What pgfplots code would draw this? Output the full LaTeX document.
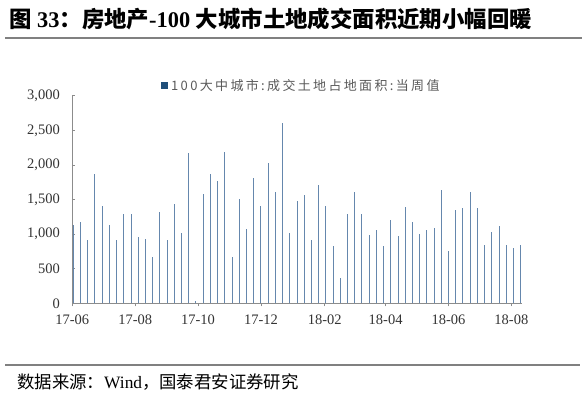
\documentclass[border=0pt]{standalone}
\usepackage{fontspec}
\setmainfont{Liberation Serif}
\newfontfamily\cjk{Noto Sans CJK SC}
\usepackage{pgfplots}
\pgfplotsset{compat=1.18}
\definecolor{barc}{HTML}{6587AD}
\definecolor{axc}{HTML}{8C8C8C}
\definecolor{legc}{HTML}{1F4E79}
\definecolor{txt}{HTML}{333333}
\definecolor{legt}{HTML}{595959}
\definecolor{rulec}{HTML}{808080}
\pgfplotstableread{
x y
1 1130
8 1180
15 910
22 1865
29 1410
36 1135
43 915
50 1285
57 1285
64 960
71 925
78 665
85 1320
92 910
99 1430
106 1010
113 2170
120 40
127 1580
134 1865
141 1765
148 2190
155 665
162 1505
169 1070
176 1805
183 1400
190 2030
197 1610
204 2610
211 1010
218 1485
225 1565
232 920
239 1710
246 1400
253 835
260 360
267 1290
274 1610
281 1285
288 990
295 1065
302 830
309 1210
316 975
323 1385
330 1175
337 1000
344 1060
351 1095
358 1635
365 755
372 1345
379 1375
386 1605
393 1380
400 840
407 1025
414 1120
421 840
428 795
435 840
}\landdata
\begin{document}
\begin{tikzpicture}
\path[use as bounding box] (0pt,0pt) rectangle (585pt,396pt);
\node[anchor=west, inner sep=0pt] at (9pt,377pt) {\fontsize{22.4}{25}\selectfont\bfseries{\cjk 图} 33{\cjk ：房地产}-100 {\cjk 大城市土地成交面积近期小幅回暖}};
\draw[rulec, line width=2.5pt] (5pt,358pt) -- (582pt,358pt);
\draw[rulec, line width=2pt] (5pt,31pt) -- (580pt,31pt);
\node[anchor=west, inner sep=0pt] at (17pt,14pt) {\fontsize{17.4}{19}\selectfont{\cjk 数据来源：}Wind{\cjk ，国泰君安证券研究}};
\fill[legc] (161pt,306.5pt) rectangle (168pt,313.5pt);
\node[anchor=west, inner sep=0pt, text=legt] at (171pt,310pt) {\fontsize{13}{15}\selectfont\cjk\addfontfeature{LetterSpace=18}100大中城市:成交土地占地面积:当周值};
\begin{axis}[
  at={(72.3pt,92.7pt)}, anchor=south west,
  scale only axis, width=449.4pt, height=207.6pt,
  xmin=0, xmax=436, ymin=0, ymax=3000,
  axis x line*=bottom, axis y line*=left,
  axis line style={axc, line width=0.8pt},
  xtick={0,61,122,183,245,304,365,426},
  xticklabels={17-06,17-08,17-10,17-12,18-02,18-04,18-06,18-08},
  ytick={0,500,1000,1500,2000,2500,3000},
  xtick align=outside, ytick align=inside,
  major tick length=3pt,
  tick style={axc, line width=0.8pt},
  tick label style={font=\fontsize{14.5}{16}\selectfont, text=txt},
  /pgf/number format/assume math mode=true,
  /pgf/number format/1000 sep={,},
  yticklabel style={xshift=-9pt},
  xticklabel style={yshift=-5pt},
]
\addplot[ycomb, barc, line width=1pt] table[x=x, y=y] {\landdata};
\end{axis}
\end{tikzpicture}
\end{document}
